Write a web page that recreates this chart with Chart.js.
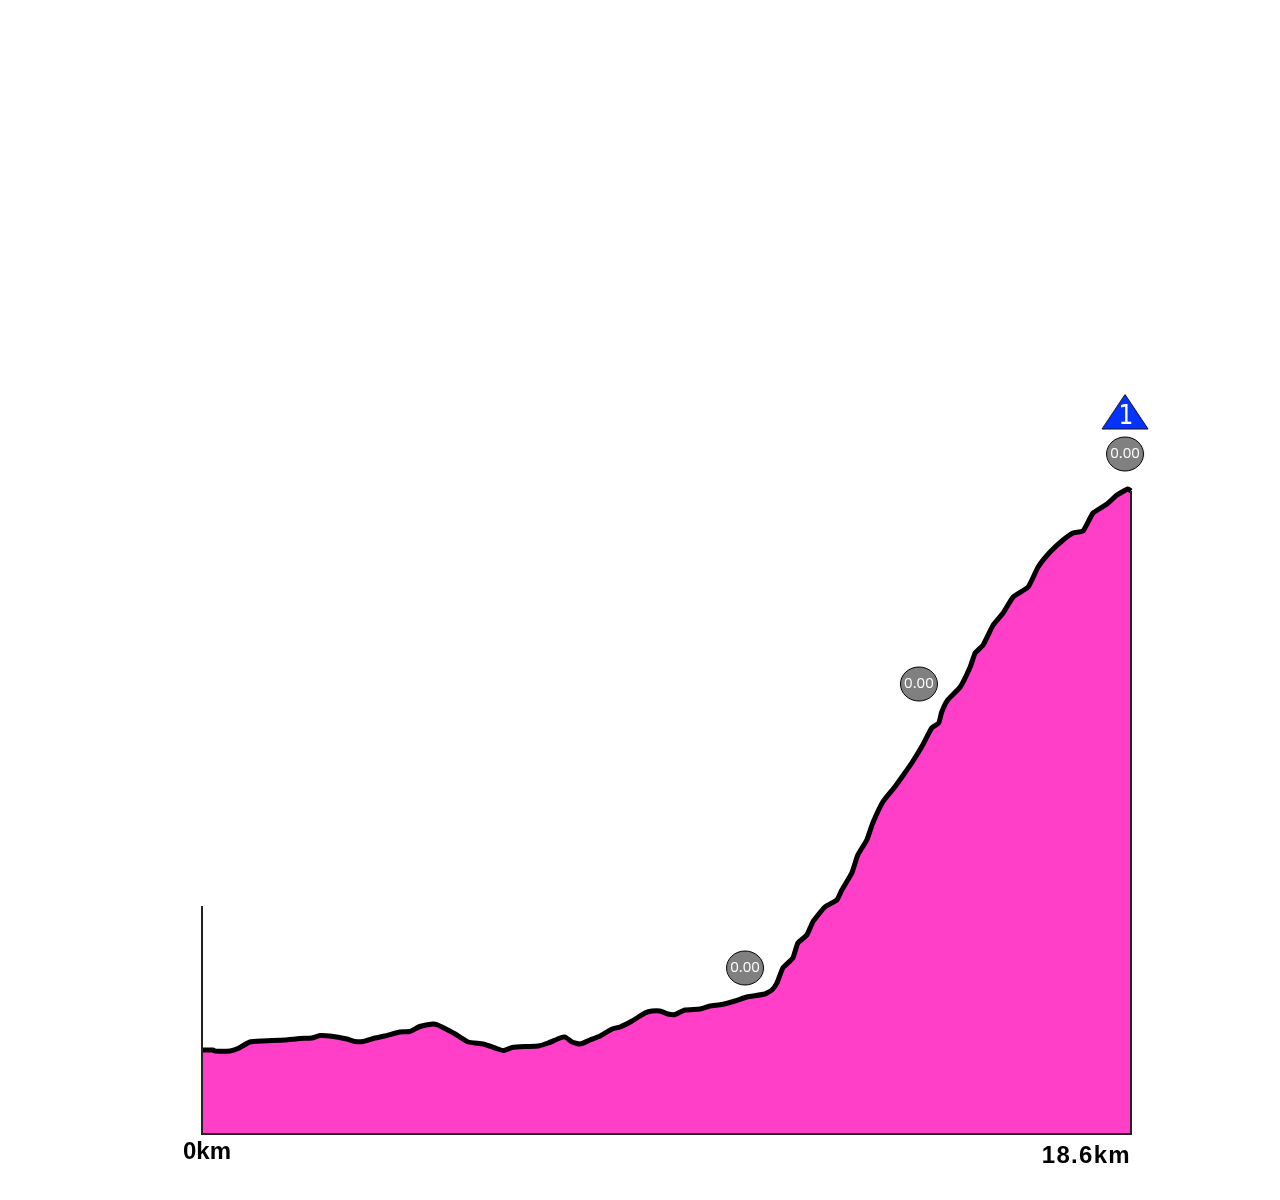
<!DOCTYPE html>
<html>
<head>
<meta charset="utf-8">
<title>Elevation profile</title>
<script src="https://cdn.jsdelivr.net/npm/chart.js@4"></script>
<style>
  html, body { margin: 0; padding: 0; background: #fff; }
  canvas { display: block; }
</style>
</head>
<body>
<canvas id="profileChart" width="1280" height="1200"></canvas>
<script>
// profile
const distances = [0, 0.22, 0.26, 0.56, 0.72, 0.96, 1.20, 1.66, 1.96, 2.20, 2.36, 2.56, 2.90, 3.06, 3.22, 3.46, 3.66, 3.96, 4.16, 4.36, 4.62, 4.72, 4.96, 5.07, 5.33, 5.63, 5.87, 6.03, 6.21, 6.47, 6.73, 6.93, 7.17, 7.27, 7.41, 7.57, 7.77, 7.97, 8.21, 8.37, 8.61, 8.87, 9.01, 9.17, 9.33, 9.47, 9.67, 9.97, 10.17, 10.41, 10.67, 10.91, 11.27, 11.41, 11.51, 11.63, 11.83, 11.93, 12.11, 12.23, 12.47, 12.71, 12.81, 13.01, 13.13, 13.31, 13.43, 13.63, 13.87, 14.07, 14.21, 14.43, 14.61, 14.75, 14.81, 14.93, 15.18, 15.38, 15.48, 15.64, 15.84, 16.04, 16.24, 16.54, 16.74, 16.98, 17.24, 17.44, 17.64, 17.84, 18.12, 18.32, 18.54, 18.6];
const heights = [84, 84, 83, 83, 85.5, 92, 93, 94, 95.5, 96, 98.5, 98, 95, 92.5, 92.5, 96, 98, 102, 102.5, 107.5, 110, 109, 103, 100, 92, 90, 86, 83.5, 86.5, 87.5, 88, 91, 96, 97, 92, 90, 94, 98, 105, 107, 113, 121, 123, 123, 120, 119.5, 124, 125, 128, 129.5, 133, 137, 140, 144, 151, 166, 176, 191, 199, 212, 227, 234, 244, 261, 279, 294, 311, 332, 347, 361, 371, 389, 406, 411, 422, 434, 447, 467, 481, 489, 509, 521, 537, 547, 567, 582, 594, 601, 603, 621, 630, 639, 645, 643];

// grey markers and the climb triangle
const badgeKm = [10.872, 14.354, 18.48];
const badgeHeights = [166, 450, 680];
const badgeLabels = ['0.00', '0.00', '0.00'];
const climbKm = [18.48];
const climbHeights = [722];
const climbLabels = ['1'];

const axisStartLabel = '0km';
const axisEndLabel = '18.6km';
const axisTop = 228;
const totalKm = 18.6;

const profilePoints = distances.map((d, i) => ({ x: d, y: heights[i] }));
const framePoints = [
  { x: 0, y: axisTop },
  { x: 0, y: 0 },
  { x: totalKm, y: 0 },
  { x: totalKm, y: heights[heights.length - 1] }
];

function makeEllipse() {
  const c = document.createElement('canvas');
  c.width = 40; c.height = 38;
  const g = c.getContext('2d');
  g.beginPath();
  g.ellipse(20, 19, 18.5, 17, 0, 0, Math.PI * 2);
  g.fillStyle = '#808080';
  g.fill();
  g.lineWidth = 1;
  g.strokeStyle = '#000';
  g.stroke();
  return c;
}

function makeTriangle() {
  const c = document.createElement('canvas');
  c.width = 48; c.height = 36;
  const g = c.getContext('2d');
  g.beginPath();
  g.moveTo(24, 0.5);
  g.lineTo(47, 35);
  g.lineTo(1, 35);
  g.closePath();
  g.fillStyle = '#0433ff';
  g.fill();
  g.lineWidth = 1;
  g.strokeStyle = '#111';
  g.stroke();
  return c;
}

// Marker texts and the two distance labels
const textPlugin = {
  id: 'profileText',
  afterDatasetsDraw(chart) {
    const { ctx, scales: { x, y } } = chart;
    ctx.save();
    ctx.textBaseline = 'middle';
    ctx.textAlign = 'center';
    ctx.fillStyle = '#fff';
    ctx.font = '15px "Open Sans"';
    badgeLabels.forEach((t, i) => {
      ctx.fillText(t, x.getPixelForValue(badgeKm[i]), y.getPixelForValue(badgeHeights[i]));
    });
    ctx.font = '26px "DejaVu Sans Condensed"';
    climbLabels.forEach((t, i) => {
      ctx.fillText(t, x.getPixelForValue(climbKm[i]) + 1, y.getPixelForValue(climbHeights[i]) + 5);
    });
    ctx.fillStyle = '#000';
    ctx.font = 'bold 24px "Liberation Sans"';
    ctx.textAlign = 'left';
    ctx.fillText(axisStartLabel, x.left - 19, y.bottom + 18);
    ctx.textAlign = 'right';
    ctx.letterSpacing = '1.3px';
    ctx.fillText(axisEndLabel, x.right, y.bottom + 22);
    ctx.restore();
  }
};

new Chart(document.getElementById('profileChart'), {
  type: 'line',
  data: {
    datasets: [
      {
        label: 'Climb',
        data: climbKm.map((d, i) => ({ x: d, y: climbHeights[i] })),
        showLine: false,
        pointStyle: makeTriangle(),
        clip: false,
        order: 0
      },
      {
        label: 'Points',
        data: badgeKm.map((d, i) => ({ x: d, y: badgeHeights[i] })),
        showLine: false,
        pointStyle: makeEllipse(),
        clip: false,
        order: 1
      },
      {
        label: 'Frame',
        data: framePoints,
        borderColor: '#222',
        borderWidth: 2,
        pointRadius: 0,
        fill: false,
        tension: 0,
        clip: false,
        order: 2
      },
      {
        label: 'Profile',
        data: profilePoints,
        borderColor: '#000',
        borderWidth: 5,
        borderJoinStyle: 'round',
        borderCapStyle: 'butt',
        backgroundColor: '#ff3fc8',
        fill: 'origin',
        pointRadius: 0,
        tension: 0.15,
        clip: false,
        order: 3
      }
    ]
  },
  options: {
    responsive: false,
    animation: false,
    layout: { padding: { left: 202, right: 149, top: 34, bottom: 66 } },
    plugins: { legend: { display: false }, tooltip: { enabled: false } },
    scales: {
      x: { type: 'linear', min: 0, max: totalKm, display: false },
      y: { min: 0, max: 1100, display: false }
    }
  },
  plugins: [textPlugin]
});
</script>
</body>
</html>
